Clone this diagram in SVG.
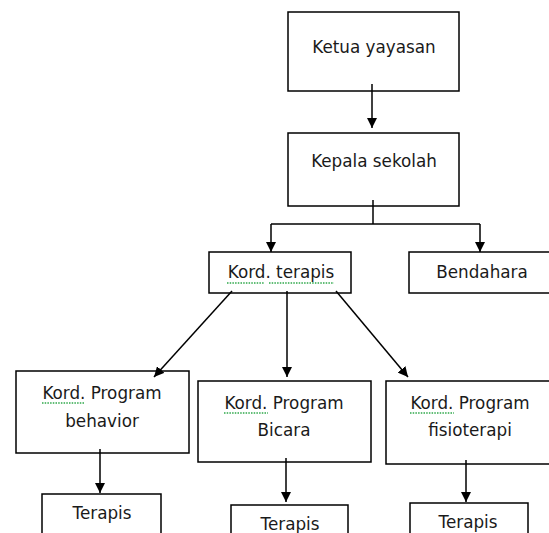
<svg xmlns="http://www.w3.org/2000/svg" width="549" height="533" viewBox="0 0 549 533">
<defs>
<marker id="ah" viewBox="0 0 10 10" refX="10" refY="5" markerWidth="10" markerHeight="10" markerUnits="userSpaceOnUse" orient="auto">
<path d="M0,0 L10,5 L0,10 Z" fill="#000"/>
</marker>
</defs>
<style>
.box{fill:#fff;stroke:#000;stroke-width:1.5}
.t{font-family:"DejaVu Sans",Verdana,sans-serif;font-size:16.8px;fill:#1a1a1a;text-anchor:middle}
.c{fill:none;stroke:#000;stroke-width:1.5}
.sq{fill:none;stroke:#2ea84a;stroke-width:1.3;stroke-dasharray:1.5 1.2}
</style>
<rect width="549" height="533" fill="#fff"/>
<g id="ketua">
<rect class="box" x="288" y="12" width="171" height="79"/>
<text class="t" x="374" y="53">Ketua yayasan</text>
</g>
<g id="kepala">
<rect class="box" x="288" y="133" width="171" height="73"/>
<text class="t" x="374" y="167">Kepala sekolah</text>
</g>
<g id="kord-terapis">
<rect class="box" x="209" y="252" width="142" height="41"/>
<text class="t" x="281" y="278">Kord. terapis</text>
<line class="sq" x1="227" y1="283" x2="264" y2="283"/>
<line class="sq" x1="269" y1="283" x2="334" y2="283"/>
</g>
<g id="bendahara">
<rect class="box" x="409" y="252" width="150" height="41"/>
<text class="t" x="482" y="278">Bendahara</text>
</g>
<g id="kord-behavior">
<rect class="box" x="16" y="371" width="173" height="82"/>
<text class="t" x="102" y="399">Kord. Program</text>
<text class="t" x="102" y="427">behavior</text>
<line class="sq" x1="42" y1="403" x2="84" y2="403"/>
</g>
<g id="kord-bicara">
<rect class="box" x="198" y="381" width="173" height="81"/>
<text class="t" x="284" y="409">Kord. Program</text>
<text class="t" x="284" y="436">Bicara</text>
<line class="sq" x1="224" y1="413" x2="268" y2="413"/>
</g>
<g id="kord-fisioterapi">
<rect class="box" x="386" y="381" width="172" height="83"/>
<text class="t" x="470" y="409">Kord. Program</text>
<text class="t" x="470" y="436">fisioterapi</text>
<line class="sq" x1="410" y1="413" x2="454" y2="413"/>
</g>
<g id="terapis-1">
<path class="c" d="M42,534 V494 H161 V534"/>
<text class="t" x="102" y="519">Terapis</text>
</g>
<g id="terapis-2">
<path class="c" d="M231,534 V505 H348 V534"/>
<text class="t" x="290" y="530">Terapis</text>
</g>
<g id="terapis-3">
<path class="c" d="M410,534 V503 H528 V534"/>
<text class="t" x="468" y="528">Terapis</text>
</g>
<g id="connectors">
<line class="c" x1="372" y1="84" x2="372" y2="128" marker-end="url(#ah)"/>
<polyline class="c" points="373,200 373,224"/>
<polyline class="c" points="271,224 480,224"/>
<line class="c" x1="271" y1="224" x2="271" y2="252" marker-end="url(#ah)"/>
<line class="c" x1="480" y1="224" x2="480" y2="252" marker-end="url(#ah)"/>
<line class="c" x1="232" y1="291" x2="154" y2="377" marker-end="url(#ah)"/>
<line class="c" x1="287" y1="291" x2="287" y2="377" marker-end="url(#ah)"/>
<line class="c" x1="336" y1="291" x2="408" y2="377" marker-end="url(#ah)"/>
<line class="c" x1="100" y1="449" x2="100" y2="493" marker-end="url(#ah)"/>
<line class="c" x1="286" y1="458" x2="286" y2="502" marker-end="url(#ah)"/>
<line class="c" x1="466" y1="460" x2="466" y2="502" marker-end="url(#ah)"/>
</g>
</svg>
